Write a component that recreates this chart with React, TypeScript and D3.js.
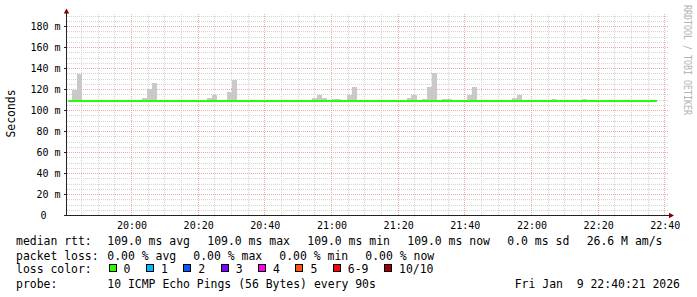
import React from "react";
import * as d3 from "d3";

// ---------- data ----------
const DAY = "2026-01-09";
const startTime = "19:40:30";
const endTime = "22:40:30";
const yMax = 190.5;
const stepSeconds = 90;

const medianStart = "19:40:30";
const medianEnd = "22:37:30";
const medianValue = 109.0;

const smokeTimes = [
  "19:42:00", "19:43:30", "20:03:00", "20:04:30", "20:06:00", "20:22:30", "20:24:00",
  "20:28:30", "20:30:00", "20:54:00", "20:55:30", "20:57:00", "21:00:00", "21:01:30",
  "21:04:30", "21:06:00", "21:22:30", "21:24:00", "21:27:00", "21:28:30", "21:30:00",
  "21:33:00", "21:34:30", "21:40:30", "21:42:00", "21:54:00", "21:55:30", "22:06:00",
  "22:15:00",
];
const smokeMax = [
  119, 134, 111.5, 120, 125.5, 111.5, 114.5,
  117, 128.5, 111.5, 114.5, 111.5, 110.5, 110.5,
  114.5, 122, 111.5, 114.5, 110.5, 122, 135,
  110.5, 110.5, 114.5, 122, 111.5, 114.5, 110.5,
  110.5,
];

const yLabelValues = [0, 20, 40, 60, 80, 100, 120, 140, 160, 180];
const xLabelTimes = ["20:00", "20:20", "20:40", "21:00", "21:20", "21:40", "22:00", "22:20", "22:40"];

const rttLabel = "median rtt:";
const rttPieces = ["109.0 ms avg", "109.0 ms max", "109.0 ms min", "109.0 ms now", "0.0 ms sd", "26.6 M am/s"];
const lossLabel = "packet loss:";
const lossPieces = ["0.00 % avg", "0.00 % max", "0.00 % min", "0.00 % now"];
const lossColorLabel = "loss color:";
const lossLabels = ["0", "1", "2", "3", "4", "5", "6-9", "10/10"];
const lossColors = ["#26ff00", "#00b8ff", "#0059ff", "#7e00ff", "#ff00ee", "#ff5500", "#ff0000", "#a10000"];
const probeLabel = "probe:";
const probeText = "10 ICMP Echo Pings (56 Bytes) every 90s";
const dateText = "Fri Jan  9 22:40:21 2026";
const yAxisTitle = "Seconds";
const watermark = "RRDTOOL / TOBI OETIKER";

// ---------- helpers ----------
const parseT = d3.timeParse("%Y-%m-%d %H:%M:%S");
const pt = (s: string) => parseT(`${DAY} ${s.length === 5 ? s + ":00" : s}`) as Date;

const MONO = "'DejaVu Sans Mono', monospace";

export default function App() {
  const W = 697, H = 297;
  const x = d3.scaleTime().domain([pt(startTime), pt(endTime)]).range([66.5, 666.5]);
  const y = d3.scaleLinear().domain([0, yMax]).range([215, 15]);

  const minorX = d3.timeMinute.every(5)!.range(pt(startTime), pt(endTime));
  const minorY = d3.range(5, yMax, 5);

  const crispX = (v: number) => Math.floor(v) + 0.5;
  const crispY = (v: number) => Math.round(v) + 0.5;

  const yBase = y(medianValue);

  const fs = 11.45;
  const cw = fs * 0.602;

  let lx = 108.5;
  const lossItems = lossLabels.map((lab, i) => {
    const item = { lab, color: lossColors[i], bx: lx };
    lx += 14 + lab.length * cw + 16.5;
    return item;
  });

  return (
    <svg
      width={W}
      height={H}
      style={{ position: "fixed", left: 0, top: 0, background: "#fff" }}
      fontFamily={MONO}
    >
      <rect x={0} y={0} width={W} height={H} fill="#fff" />

      {/* minor grid */}
      <g stroke="#d4d4d4" strokeWidth={1} strokeDasharray="1,1" shapeRendering="crispEdges">
        {minorX.filter((t) => t.getMinutes() % 20 !== 0).map((t, i) => (
          <line key={"vx" + i} x1={crispX(x(t))} x2={crispX(x(t))} y1={215} y2={14} />
        ))}
        {minorY.filter((v) => v % 20 !== 0).map((v, i) => (
          <line key={"hy" + i} x1={67} x2={668} y1={crispY(y(v))} y2={crispY(y(v))} />
        ))}
      </g>
      {/* major grid */}
      <g stroke="#ebaaaa" strokeWidth={1} strokeDasharray="1,1" shapeRendering="crispEdges">
        {minorX.filter((t) => t.getMinutes() % 20 === 0).map((t, i) => (
          <line key={"mx" + i} x1={crispX(x(t))} x2={crispX(x(t))} y1={215} y2={14} />
        ))}
        {yLabelValues.filter((v) => v > 0).map((v, i) => (
          <line key={"my" + i} x1={67} x2={668} y1={crispY(y(v))} y2={crispY(y(v))} />
        ))}
      </g>

      {/* smoke */}
      <g fill="#c9c9c9" shapeRendering="crispEdges">
        {smokeTimes.map((s, i) => {
          const t0 = pt(s);
          const t1 = new Date(t0.getTime() + stepSeconds * 1000);
          const x0 = Math.round(x(t0));
          const x1 = Math.round(x(t1));
          const yt = Math.round(y(smokeMax[i]));
          return <rect key={"s" + i} x={x0} width={x1 - x0} y={yt} height={Math.max(0, Math.round(yBase) - yt)} />;
        })}
      </g>

      {/* median line */}
      <line
        x1={Math.round(x(pt(medianStart))) + 0.5}
        x2={Math.round(x(pt(medianEnd)))}
        y1={Math.round(yBase)}
        y2={Math.round(yBase)}
        stroke={lossColors[0]}
        strokeWidth={2}
        shapeRendering="crispEdges"
      />

      {/* axes */}
      <g stroke="#222" strokeWidth={1} shapeRendering="crispEdges">
        <line x1={66.5} x2={66.5} y1={216} y2={13} />
        <line x1={64} x2={670} y1={215.5} y2={215.5} />
        {yLabelValues.map((v, i) => (
          <line key={"yt" + i} x1={64} x2={66} y1={crispY(y(v))} y2={crispY(y(v))} />
        ))}
      </g>
      <path d="M66.5,8.5 L63.8,13.5 L69.2,13.5 Z" fill="#7f0000" />
      <path d="M674,215.5 L669,212.8 L669,218.2 Z" fill="#7f0000" />

      {/* y tick labels */}
      <g fontSize={10} fill="#000">
        {yLabelValues.map((v, i) => (
          <text key={"yl" + i} x={v === 0 ? 46.5 : 60.5} y={y(v) + 3.6} textAnchor="end" xmlSpace="preserve">
            {v === 0 ? "0" : `${v} m`}
          </text>
        ))}
      </g>
      {/* x tick labels */}
      <g fontSize={10} fill="#000">
        {xLabelTimes.map((s, i) => (
          <text key={"xl" + i} x={x(pt(s)) + 0.5} y={228.5} textAnchor="middle">
            {s}
          </text>
        ))}
      </g>

      {/* y axis title */}
      <text transform="translate(15,113.5) rotate(-90)" textAnchor="middle" fontSize={fs} fill="#000">
        {yAxisTitle}
      </text>

      {/* watermark */}
      <text
        transform="translate(683.5,5) rotate(90)"
        fontSize={11}
        fill="#b4b4b4"
        textLength={110}
        lengthAdjust="spacingAndGlyphs"
      >
        {watermark}
      </text>

      {/* legend */}
      <g fontSize={fs} fill="#000">
        <text x={16} y={245}>{rttLabel}</text>
        {rttPieces.map((p, i) => (
          <text key={"r" + i} x={[107.3, 207.3, 307.3, 407.3, 507.3, 586.7][i]} y={245}>{p}</text>
        ))}
        <text x={16} y={259.5}>{lossLabel}</text>
        {lossPieces.map((p, i) => (
          <text key={"l" + i} x={107.3 + 86 * i} y={259.5}>{p}</text>
        ))}
        <text x={16} y={273}>{lossColorLabel}</text>
        {lossItems.map((it, i) => (
          <g key={"lc" + i}>
            <rect x={Math.round(it.bx) + 0.5} y={264.5} width={7} height={7} fill={it.color} stroke="#000" strokeWidth={1} shapeRendering="crispEdges" />
            <text x={it.bx + 15} y={273}>{it.lab}</text>
          </g>
        ))}
        <text x={16} y={287.5}>{probeLabel}</text>
        <text x={107.3} y={287.5}>{probeText}</text>
        <text x={680} y={287.5} textAnchor="end" xmlSpace="preserve" style={{ whiteSpace: "pre" }}>{dateText}</text>
      </g>
    </svg>
  );
}
